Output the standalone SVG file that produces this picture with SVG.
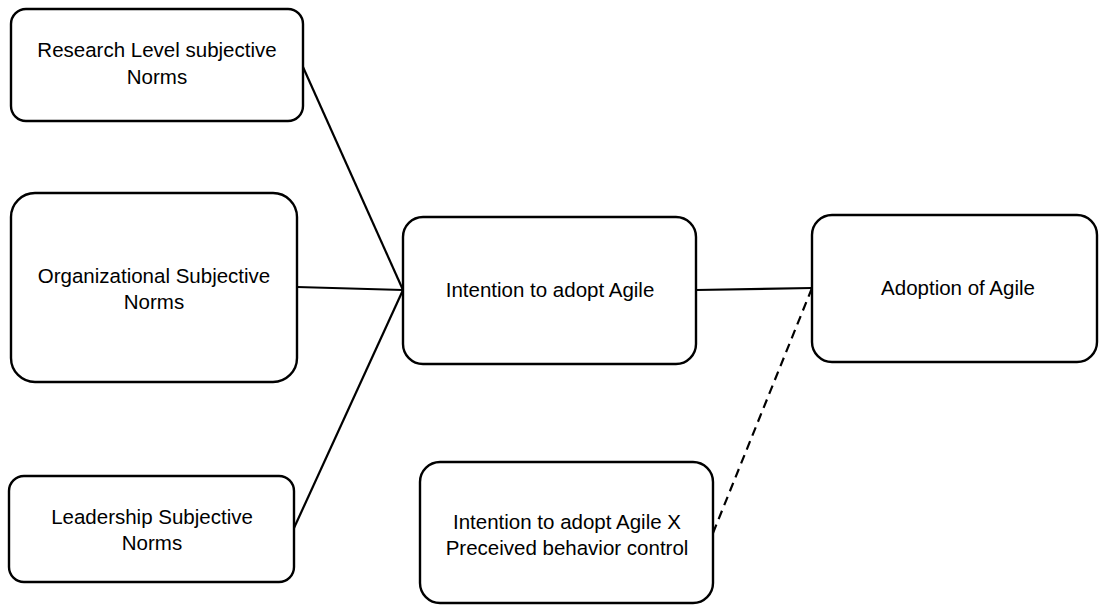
<svg xmlns="http://www.w3.org/2000/svg" width="1099" height="605" viewBox="0 0 1099 605">
<style>
.box{fill:#fff;stroke:#000;stroke-width:2.4}
.t{font-family:"Liberation Sans",Arial,sans-serif;font-size:20.5px;fill:#000;text-anchor:middle}
.c{stroke:#000;stroke-width:2.2;fill:none}
.d{stroke:#000;stroke-width:2.2;fill:none;stroke-dasharray:9 6}
</style>
<rect width="1099" height="605" fill="#fff"/>
<g id="connectors">
<line class="c" x1="303" y1="67" x2="403" y2="290"/>
<line class="c" x1="297" y1="287" x2="403" y2="290"/>
<line class="c" x1="294" y1="528" x2="403" y2="290"/>
<line class="c" x1="696" y1="290" x2="812" y2="288"/>
<line class="d" x1="713" y1="533" x2="812" y2="288"/>
</g>
<g id="research">
<rect class="box" x="11" y="9" width="292" height="112" rx="15"/>
<text class="t" x="157" y="57">Research Level subjective</text>
<text class="t" x="157" y="84">Norms</text>
</g>
<g id="organizational">
<rect class="box" x="11" y="193" width="286" height="189" rx="24"/>
<text class="t" x="154" y="283">Organizational Subjective</text>
<text class="t" x="154" y="309">Norms</text>
</g>
<g id="leadership">
<rect class="box" x="9" y="476" width="285" height="106" rx="15"/>
<text class="t" x="152" y="524">Leadership Subjective</text>
<text class="t" x="152" y="550">Norms</text>
</g>
<g id="intention">
<rect class="box" x="403" y="217" width="293" height="147" rx="20"/>
<text class="t" x="550" y="297">Intention to adopt Agile</text>
</g>
<g id="adoption">
<rect class="box" x="812" y="215" width="285" height="147" rx="20"/>
<text class="t" x="958" y="295">Adoption of Agile</text>
</g>
<g id="interaction">
<rect class="box" x="420" y="462" width="293" height="141" rx="20"/>
<text class="t" x="567" y="529">Intention to adopt Agile X</text>
<text class="t" x="567" y="555">Preceived behavior control</text>
</g>
</svg>
